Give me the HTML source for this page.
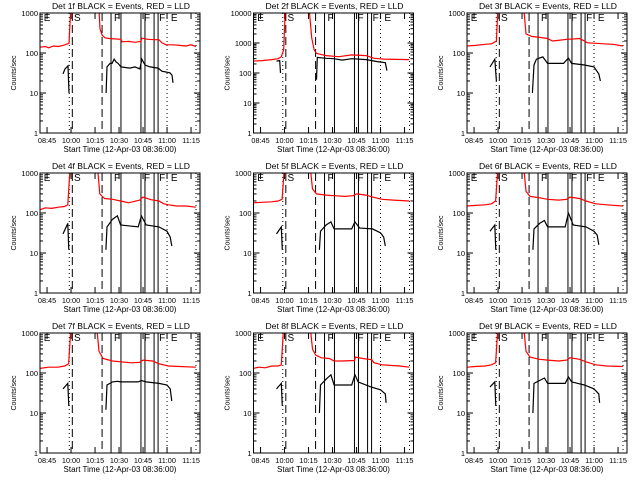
<!DOCTYPE html>
<html><head><meta charset="utf-8"><style>
html,body{margin:0;padding:0;background:#fff;}
svg{display:block;font-family:"Liberation Sans",sans-serif;}
</style></head><body>
<svg id="chart" width="640" height="480" viewBox="0 0 640 480" xmlns="http://www.w3.org/2000/svg"></svg>
<script>
// time in minutes after 09:36
const tickLabels = ["08:45","10:00","10:15","10:30","10:45","11:00","11:15"];
const tickTimes = [9,24,39,54,69,84,99];
const dottedTimes = [22.9,84,102.1];
const dashedTimes = [24.8,43.4];
const solidTimes = [49,55.2,67.7,70.2,75.9,78.4];
const markerLabels = ["E","S","F","F","F","E"];
const markerTimes = [6.3,25.2,50.2,69,78.4,85.8];
const panelTitles = ["Det 1f BLACK = Events, RED = LLD","Det 2f BLACK = Events, RED = LLD","Det 3f BLACK = Events, RED = LLD","Det 4f BLACK = Events, RED = LLD","Det 5f BLACK = Events, RED = LLD","Det 6f BLACK = Events, RED = LLD","Det 7f BLACK = Events, RED = LLD","Det 8f BLACK = Events, RED = LLD","Det 9f BLACK = Events, RED = LLD"];
const panelDecades = [3,4,3,3,3,3,3,3,3];
const red1T = [[4.6,8,10,13,16,19,21,22.7,23.9],[41.5,42.1,43.4,45.2,48,51,55.2,55.9,60,64,67.7,68.3,72,76,78.9,80.8,83.4,88,92,96,99,102.1]];
const red1V = [[140,145,135,150,145,155,165,175,1500],[1200,400,280,240,230,225,220,190,195,185,195,235,220,215,215,180,160,160,155,150,160,145]];
const red2T = [[4.6,10,16,20,22,23.5,24.5],[39.5,41,42.5,44,50,58,66,75,80,86,94,102]];
const red2V = [[250,260,280,300,350,600,15000],[12000,1500,600,450,380,350,400,380,310,290,285,280]];
const red3T = [[4.6,10,16,20,23,24],[40,41.5,45,50,55,58,63,67,72,75,80,85,90,96,102]];
const red3V = [[150,155,165,170,200,1500],[1500,300,260,245,230,200,210,220,225,230,180,175,170,165,150]];
const red4T = [[4.6,8,12,16,20,22,23.5],[40.5,42,45,50,55,60,67,69,74,79,82,85,90,96,102]];
const red4V = [[120,135,130,140,145,160,1500],[1500,300,230,220,200,180,210,250,215,200,170,160,150,150,140]];
const red5T = [[4.6,10,16,20,22.5,24],[40,41.5,44,50,55,62,67,69,75,79,85,92,102]];
const red5V = [[180,185,190,200,220,1500],[1500,400,300,280,270,260,270,300,280,250,220,210,200]];
const red6T = [[4.6,10,16,20,22.5,24],[40,41.5,44,50,55,62,67,69,75,79,85,92,102]];
const red6V = [[150,155,160,170,200,1500],[1500,350,260,240,220,210,220,250,230,200,170,160,150]];
const red7T = [[4.6,10,16,20,22.5,24],[40,41.5,44,50,55,62,67,69,75,79,85,92,102]];
const red7V = [[130,140,140,150,170,1500],[1500,350,230,200,190,180,185,210,200,170,150,145,140]];
const red8T = [[4.6,8,12,16,20,22,23.5],[40,41.5,43.4,47,52,55,60,67.7,68.3,73,78.4,80,85,90,96,102]];
const red8V = [[130,140,135,150,150,160,1500],[1500,400,280,240,230,200,200,205,250,230,215,180,160,155,150,140]];
const red9T = [[4.6,10,16,20,22.5,24],[40,41.5,44,50,55,62,67,69,75,79,85,92,102]];
const red9V = [[140,145,150,160,180,1500],[1500,350,250,220,210,200,210,240,220,190,160,150,145]];
const blk1T = [[19,20.2,22.1,22.7],[45.9,46.5,48.4,49.6,50.9,52.1,53.4,55.2,60.8,64,67,68.3,70.2,73.4,78.4,80.8,85.8,87.1,87.7]];
const blk1V = [[30,40,48,10],[10,45,55,55,70,60,55,45,42,45,40,70,50,45,42,35,32,28,18]];
const blk2T = [[19,21,21.5],[44,44.5,50,55,60,66,75,82,87,88]];
const blk2V = [[250,260,100],[60,330,310,300,270,300,280,240,220,120]];
const blk3T = [[19,22,23],[45.5,46.5,48,52,55,65,68,70,78,84,87,88]];
const blk3V = [[45,70,20],[10,50,70,80,55,55,75,55,50,45,30,20]];
const blk4T = [[19,22,22.6],[45.8,46.5,50,53,55,66,68,71,79,84,86,87]];
const blk4V = [[30,55,12],[12,45,70,85,50,45,85,50,45,35,25,15]];
const blk5T = [[19,22,22.6],[45.8,46.5,50,53,55,66,68,71,79,84,86,87]];
const blk5V = [[30,45,12],[12,35,50,60,40,40,60,42,40,32,25,15]];
const blk6T = [[19,22,22.6],[45.8,46.5,50,53,55,66,68,71,79,84,86,87]];
const blk6V = [[35,50,12],[12,40,55,65,45,45,100,50,45,35,28,16]];
const blk7T = [[19,22,22.6],[45.8,46.5,50,53,55,66,68,71,79,84,86,87]];
const blk7V = [[40,55,15],[12,50,60,62,60,60,65,60,55,50,40,20]];
const blk8T = [[19,22,22.6],[45.8,46.5,50,53,55,66,68,70,78,84,87,87.5]];
const blk8V = [[40,55,15],[10,50,70,90,50,50,90,60,45,38,30,18]];
const blk9T = [[19,22,22.6],[45.8,46.5,50,53,55,66,68,70,78,84,87,87.5]];
const blk9V = [[45,60,15],[10,55,65,75,55,55,80,60,50,40,30,18]];

const redT=[red1T,red2T,red3T,red4T,red5T,red6T,red7T,red8T,red9T];
const redV=[red1V,red2V,red3V,red4V,red5V,red6V,red7V,red8V,red9V];
const blkT=[blk1T,blk2T,blk3T,blk4T,blk5T,blk6T,blk7T,blk8T,blk9T];
const blkV=[blk1V,blk2V,blk3V,blk4V,blk5V,blk6V,blk7V,blk8V,blk9V];

const NS="http://www.w3.org/2000/svg";
const svg=document.getElementById('chart');
function mk(tag,attrs,parent){const e=document.createElementNS(NS,tag);for(const k in attrs)e.setAttribute(k,attrs[k]);parent.appendChild(e);return e;}
const T0=4.6,T1=104.6,PL=40,PR=200,PT=13,PB=133;
for(let p=0;p<9;p++){
  const col=p%3,row=Math.floor(p/3);
  const ox=col*213.5,oy=row*160;
  const g=mk('g',{transform:`translate(${ox},${oy})`},svg);
  
  
  const nd=panelDecades[p];
  const xs=t=>PL+(t-T0)*(PR-PL)/(T1-T0);
  const ys=v=>PT+(nd-Math.log10(v))*(PB-PT)/nd;
  const cid='clip'+p;
  const cp=mk('clipPath',{id:cid},g);mk('rect',{x:PL,y:PT,width:PR-PL,height:PB-PT},cp);
  const title=mk('text',{x:121,y:9,'text-anchor':'middle','font-size':8.6},g);title.textContent=panelTitles[p];
  
  
  for(let d=0;d<=nd;d++){
    const v=Math.pow(10,d),y=ys(v);
    mk('line',{x1:PL,x2:PL+6,y1:y,y2:y,stroke:'#000'},g);
    mk('line',{x1:PR,x2:PR-6,y1:y,y2:y,stroke:'#000'},g);
    const tl=mk('text',{x:PL-2,y:y+3,'text-anchor':'end','font-size':7.5},g);tl.textContent=String(v);
    
    
    if(d<nd)for(let m=2;m<10;m++){const ym=ys(m*v);
      mk('line',{x1:PL,x2:PL+3,y1:ym,y2:ym,stroke:'#000'},g);
      mk('line',{x1:PR,x2:PR-3,y1:ym,y2:ym,stroke:'#000'},g);}
  }
  const yt=mk('text',{x:0,y:0,transform:`translate(16,73) rotate(-90)`,'text-anchor':'middle','font-size':7},g);yt.textContent='Counts/sec';
  
  
  tickTimes.forEach((t,i)=>{const x=xs(t);
    mk('line',{x1:x,x2:x,y1:PB,y2:PB-6,stroke:'#000'},g);
    mk('line',{x1:x,x2:x,y1:PT,y2:PT+6,stroke:'#000'},g);
    const tl=mk('text',{x:x,y:PB+10,'text-anchor':'middle','font-size':7.3},g);tl.textContent=tickLabels[i];
    
    
  });
  const xt=mk('text',{x:120,y:PB+19,'text-anchor':'middle','font-size':8},g);xt.textContent='Start Time (12-Apr-03 08:36:00)';
  
  
  dottedTimes.forEach(t=>{const l=mk('line',{x1:xs(t),x2:xs(t),y1:PT,y2:PB,stroke:'#000','stroke-dasharray':'1,3'},g);
    });
  dashedTimes.forEach(t=>{const l=mk('line',{x1:xs(t),x2:xs(t),y1:PT,y2:PB,stroke:'#000','stroke-dasharray':'8,4'},g);
    });
  solidTimes.forEach(t=>{const l=mk('line',{x1:xs(t),x2:xs(t),y1:PT,y2:PB,stroke:'#000'},g);
    });
  markerLabels.forEach((s,i)=>{const tx=mk('text',{x:xs(markerTimes[i])+1,y:PT+8,'font-size':10},g);tx.textContent=s;
    });
  const draw=(T,V,color,name)=>{for(let s=0;s<T.length;s++){
    const pts=T[s].map((t,i)=>xs(t).toFixed(1)+','+ys(V[s][i]).toFixed(1)).join(' ');
    const pl=mk('polyline',{points:pts,fill:'none',stroke:color,'stroke-width':1.2,'clip-path':`url(#${cid})`},g);
    
    }};
  draw(redT[p],redV[p],'#f00','lld-series-red');
  draw(blkT[p],blkV[p],'#000','events-series-black');
  const fr=mk('rect',{x:PL,y:PT,width:PR-PL,height:PB-PT,fill:'none',stroke:'#000'},g);
  
  
}
</script>
</body></html>
